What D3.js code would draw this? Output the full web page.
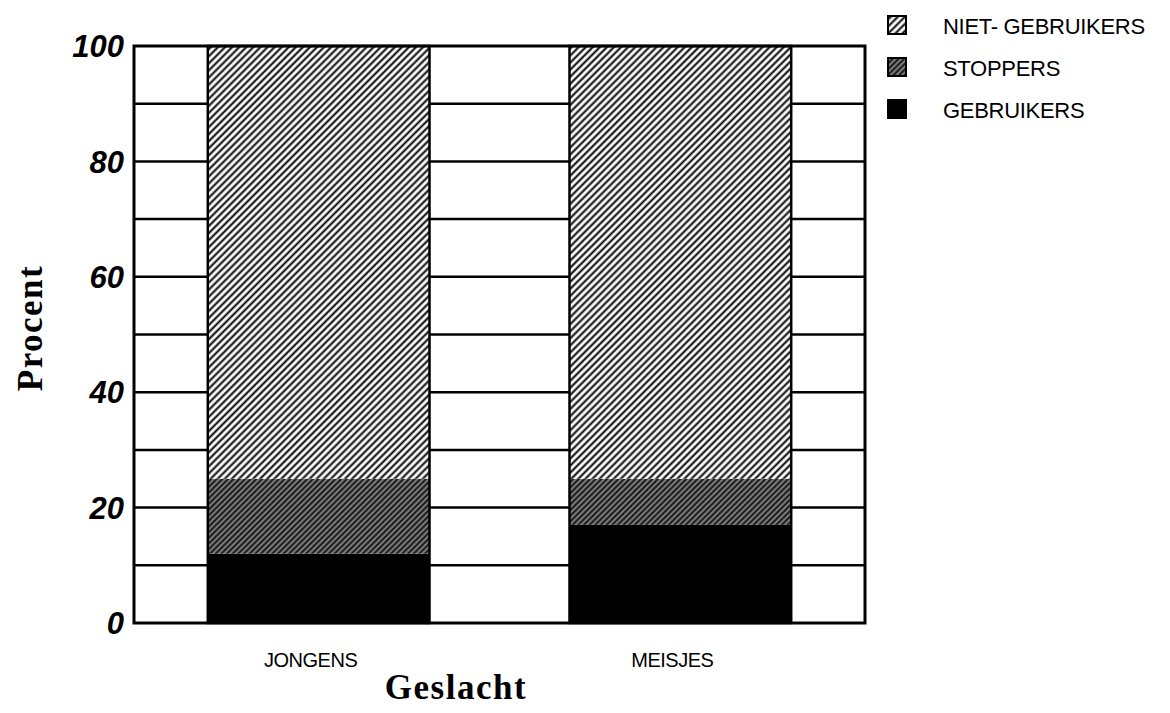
<!DOCTYPE html>
<html>
<head>
<meta charset="utf-8">
<script src="https://cdn.jsdelivr.net/npm/d3@7"></script>
<style>
  body { margin: 0; background: #fff; }
  svg { display: block; }
  .tick-label { font-family: "Liberation Sans", Arial, sans-serif; font-weight: bold; font-style: italic; font-size: 31px; }
  .cat-label { font-family: "Liberation Sans", Arial, sans-serif; font-size: 20px; letter-spacing: -0.5px; }
  .legend-label { font-family: "Liberation Sans", Arial, sans-serif; font-size: 22px; letter-spacing: -0.3px; }
  .axis-title { font-family: "Liberation Serif", "Times New Roman", serif; font-weight: bold; font-size: 35px; letter-spacing: 1.5px; }
</style>
</head>
<body>
<svg id="chart" width="1170" height="713"></svg>
<script>
// data
const categories = ['JONGENS', 'MEISJES'];
const gebruikers = [12, 17];
const stoppers = [13, 8];
const nietGebruikers = [75, 75];
const yTicks = [0, 20, 40, 60, 80, 100];
const gridValues = [10, 20, 30, 40, 50, 60, 70, 80, 90];
const seriesNames = ['GEBRUIKERS', 'STOPPERS', 'NIET- GEBRUIKERS'];

const plot = {left: 134, right: 865, top: 46, bottom: 623};

const svg = d3.select('#chart');

// MARK: - patterns
const defs = svg.append('defs');

let hatch = defs.append('pattern')
  .attr('id', 'hatch-niet')
  .attr('patternUnits', 'userSpaceOnUse')
  .attr('width', 5).attr('height', 5)
  .attr('patternTransform', 'rotate(45)');
hatch.append('rect').attr('width', 5).attr('height', 5).attr('fill', '#fff');
hatch.append('line')
  .attr('x1', 2.5).attr('y1', 0).attr('x2', 2.5).attr('y2', 5)
  .attr('stroke', '#000').attr('stroke-width', 2);

let dense = defs.append('pattern')
  .attr('id', 'hatch-stop')
  .attr('patternUnits', 'userSpaceOnUse')
  .attr('width', 4).attr('height', 4)
  .attr('patternTransform', 'rotate(45)');
dense.append('rect').attr('width', 4).attr('height', 4).attr('fill', '#1e1e1e');
dense.append('line')
  .attr('x1', 2).attr('y1', 0).attr('x2', 2).attr('y2', 4)
  .attr('stroke', '#aaa').attr('stroke-width', 1.3);

const fills = {
  'GEBRUIKERS': '#000',
  'STOPPERS': 'url(#hatch-stop)',
  'NIET- GEBRUIKERS': 'url(#hatch-niet)'
};

// MARK: - scales
const x = d3.scaleBand()
  .domain(categories)
  .range([plot.left, plot.right])
  .paddingInner(0.387)
  .paddingOuter(0.204);

const y = d3.scaleLinear()
  .domain([0, 100])
  .range([plot.bottom, plot.top]);

// MARK: - grid
svg.append('g')
  .selectAll('line')
  .data(gridValues)
  .join('line')
  .attr('x1', plot.left).attr('x2', plot.right)
  .attr('y1', d => y(d)).attr('y2', d => y(d))
  .attr('stroke', '#000').attr('stroke-width', 2.5);

// MARK: - bars
const table = categories.map((c, i) => ({
  category: c,
  'GEBRUIKERS': gebruikers[i],
  'STOPPERS': stoppers[i],
  'NIET- GEBRUIKERS': nietGebruikers[i]
}));

const stacked = d3.stack().keys(seriesNames)(table);

svg.append('g')
  .selectAll('g')
  .data(stacked)
  .join('g')
  .attr('fill', d => fills[d.key])
  .selectAll('rect')
  .data(d => d)
  .join('rect')
  .attr('x', d => x(d.data.category))
  .attr('width', x.bandwidth())
  .attr('y', d => y(d[1]))
  .attr('height', d => y(d[0]) - y(d[1]));

// bar outlines
svg.append('g')
  .selectAll('rect')
  .data(table)
  .join('rect')
  .attr('x', d => x(d.category))
  .attr('width', x.bandwidth())
  .attr('y', y(100))
  .attr('height', y(0) - y(100))
  .attr('fill', 'none')
  .attr('stroke', '#000')
  .attr('stroke-width', 2.5);

// plot frame
svg.append('rect')
  .attr('x', plot.left).attr('y', plot.top)
  .attr('width', plot.right - plot.left)
  .attr('height', plot.bottom - plot.top)
  .attr('fill', 'none')
  .attr('stroke', '#000')
  .attr('stroke-width', 3);

// MARK: - axes text
svg.append('g')
  .selectAll('text')
  .data(yTicks)
  .join('text')
  .attr('class', 'tick-label')
  .attr('x', plot.left - 10)
  .attr('y', d => y(d))
  .attr('dy', '0.36em')
  .attr('text-anchor', 'end')
  .text(d => d);

svg.append('g')
  .selectAll('text')
  .data(categories)
  .join('text')
  .attr('class', 'cat-label')
  .attr('x', d => x(d) + x.bandwidth() / 2 - 8)
  .attr('y', 667)
  .attr('text-anchor', 'middle')
  .text(d => d);

svg.append('text')
  .attr('class', 'axis-title')
  .attr('x', 456)
  .attr('y', 699)
  .attr('text-anchor', 'middle')
  .text('Geslacht');

svg.append('text')
  .attr('class', 'axis-title')
  .attr('transform', 'translate(42,328) rotate(-90)')
  .attr('text-anchor', 'middle')
  .text('Procent');

// MARK: - legend
const legendItems = ['NIET- GEBRUIKERS', 'STOPPERS', 'GEBRUIKERS'];
const legend = svg.append('g')
  .selectAll('g')
  .data(legendItems)
  .join('g')
  .attr('transform', (d, i) => `translate(888,${16 + i * 42})`);

legend.append('rect')
  .attr('width', 18).attr('height', 18)
  .attr('fill', d => fills[d])
  .attr('stroke', '#000').attr('stroke-width', 2);

legend.append('text')
  .attr('class', 'legend-label')
  .attr('x', 55)
  .attr('y', 10)
  .attr('dy', '0.36em')
  .text(d => d);
</script>
</body>
</html>
